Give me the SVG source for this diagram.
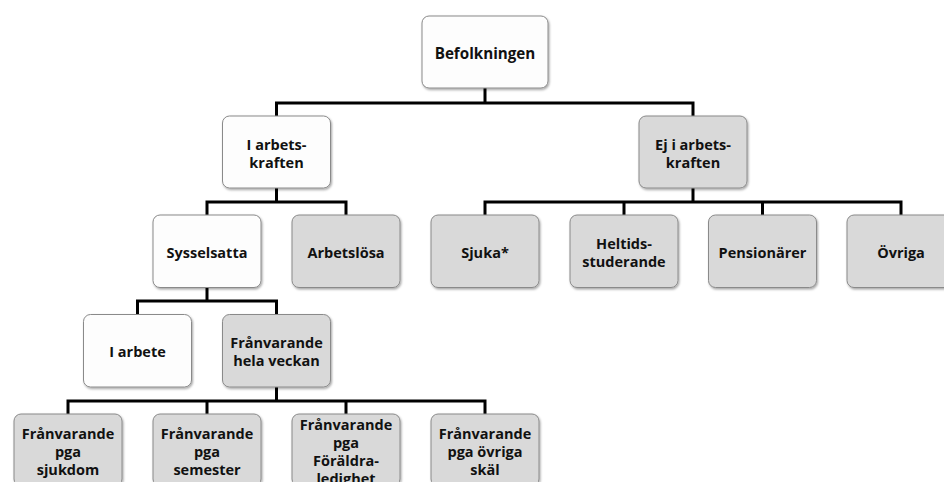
<svg xmlns="http://www.w3.org/2000/svg" width="944" height="482" viewBox="0 0 944 482">
<defs>
<filter id="sh" x="-10%" y="-10%" width="125%" height="130%">
<feDropShadow dx="1" dy="1.5" stdDeviation="1.2" flood-color="#000" flood-opacity="0.35"/>
</filter>
<style>
.w{fill:#fdfdfd;stroke:#8a8a8a;stroke-width:1;filter:url(#sh)}
.g{fill:#d9d9d9;stroke:#8a8a8a;stroke-width:1;filter:url(#sh)}
text{font-family:"Open Sans","Noto Sans","DejaVu Sans",sans-serif;font-weight:bold;font-size:14.5px;fill:#111;text-anchor:middle}
.c{fill:none;stroke:#000;stroke-width:3;stroke-linejoin:miter;stroke-linecap:butt}
</style>
</defs>
<rect width="944" height="482" fill="#fff"/>
<g id="connectors">
<path class="c" d="M485 88V103M276.5 116V103H693V116"/>
<path class="c" d="M276.5 188V202M207 215V202H346V215"/>
<path class="c" d="M693 188V202M485 215V202H901V215M624 202V215M762.5 202V215"/>
<path class="c" d="M207 288V301M137.5 314.5V301H276.5V314.5"/>
<path class="c" d="M276.5 387V401M68 414V401H485V414M207 401V414M346 401V414"/>
</g>
<g id="befolkningen"><rect class="w" x="422" y="16" width="126" height="72" rx="7"/><text x="485" y="58.5" style="font-size:15.2px">Befolkningen</text></g>
<g id="i-arbetskraften"><rect class="w" x="222.5" y="116" width="108" height="72" rx="7"/><text x="276.5" y="149.5">I arbets-</text><text x="276.5" y="167.5">kraften</text></g>
<g id="ej-i-arbetskraften"><rect class="g" x="639" y="116" width="108" height="72" rx="7"/><text x="693" y="149.5">Ej i arbets-</text><text x="693" y="167.5">kraften</text></g>
<g id="sysselsatta"><rect class="w" x="153" y="215" width="108" height="72.5" rx="7"/><text x="207" y="257.5">Sysselsatta</text></g>
<g id="arbetslosa"><rect class="g" x="292" y="215" width="108" height="72.5" rx="7"/><text x="346" y="257.5">Arbetslösa</text></g>
<g id="sjuka"><rect class="g" x="431" y="215" width="108" height="72.5" rx="7"/><text x="485" y="257.5">Sjuka*</text></g>
<g id="heltidsstuderande"><rect class="g" x="570" y="215" width="108" height="72.5" rx="7"/><text x="624" y="248.5">Heltids-</text><text x="624" y="266.5">studerande</text></g>
<g id="pensionarer"><rect class="g" x="708.5" y="215" width="108" height="72.5" rx="7"/><text x="762.5" y="257.5">Pensionärer</text></g>
<g id="ovriga"><rect class="g" x="847" y="215" width="108" height="72.5" rx="7"/><text x="901" y="257.5">Övriga</text></g>
<g id="i-arbete"><rect class="w" x="83.5" y="314.5" width="108" height="72.5" rx="7"/><text x="137.5" y="357">I arbete</text></g>
<g id="franvarande-hela-veckan"><rect class="g" x="222.5" y="314.5" width="108" height="72.5" rx="7"/><text x="276.5" y="348">Frånvarande</text><text x="276.5" y="366">hela veckan</text></g>
<g id="franvarande-sjukdom"><rect class="g" x="14" y="414" width="108" height="72" rx="7"/><text x="68" y="438.5">Frånvarande</text><text x="68" y="456.5">pga</text><text x="68" y="474.5">sjukdom</text></g>
<g id="franvarande-semester"><rect class="g" x="153" y="414" width="108" height="72" rx="7"/><text x="207" y="438.5">Frånvarande</text><text x="207" y="456.5">pga</text><text x="207" y="474.5">semester</text></g>
<g id="franvarande-foraldraledighet"><rect class="g" x="292" y="414" width="108" height="72" rx="7"/><text x="346" y="429.5">Frånvarande</text><text x="346" y="447.5">pga</text><text x="346" y="465.5">Föräldra-</text><text x="346" y="483.5">ledighet</text></g>
<g id="franvarande-ovriga"><rect class="g" x="431" y="414" width="108" height="72" rx="7"/><text x="485" y="438.5">Frånvarande</text><text x="485" y="456.5">pga övriga</text><text x="485" y="474.5">skäl</text></g>
</svg>
